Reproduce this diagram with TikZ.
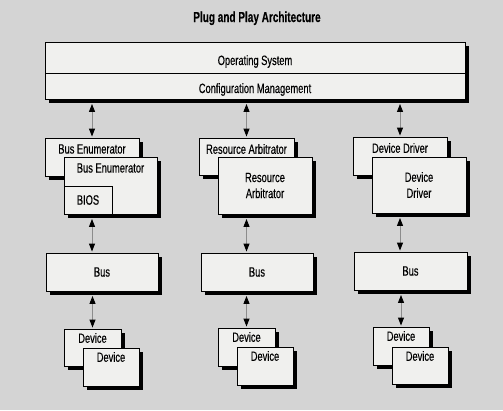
\documentclass[tikz,border=0pt]{standalone}
\usepackage{fontspec}
\setmainfont{Liberation Sans}[FakeStretch=0.69, FakeBold=0.3]
\usetikzlibrary{arrows.meta,shadows}
\definecolor{bgc}{RGB}{212,212,212}
\definecolor{boxc}{RGB}{240,240,238}
\definecolor{shaftc}{RGB}{140,140,140}
\begin{document}
\begin{tikzpicture}[x=1pt,y=-1pt,
  box/.style={draw=black, line width=0.9pt, fill=boxc, inner sep=0pt,
    font=\fontsize{13.5}{16}\selectfont, align=center,
    drop shadow={shadow xshift=3.5pt, shadow yshift=-3.5pt, fill=black, opacity=1}},
  plain/.style={draw=black, line width=0.9pt, fill=boxc, inner sep=0pt,
    font=\fontsize{13.5}{16}\selectfont},
  lbl/.style={inner sep=0pt, font=\fontsize{13.5}{16}\selectfont},
  ttl/.style={inner sep=0pt, font=\fontsize{14.5}{16}\selectfont\bfseries},
  arr/.style={draw=shaftc, line width=0.9pt, {Triangle[length=8pt,width=6pt,color=black]}-{Triangle[length=8pt,width=6pt,color=black]},
    shorten <=4.5pt, shorten >=1pt}]
\fill[bgc] (0,0) rectangle (503,410);
\useasboundingbox (0,0) rectangle (503,410);

% title
\node[ttl, anchor=base] (title) at (257,22) {Plug and Play Architecture};

% top layers
\node[box, minimum width=420pt, minimum height=31pt] (os) at (255,57.5) {};
\node[box, minimum width=420pt, minimum height=26pt] (cm) at (255,86) {};
\node[lbl, anchor=base] (ost) at (255,65) {Operating System};
\node[lbl, anchor=base] (cmt) at (255,93) {Configuration Management};

% column 1
\node[box, minimum width=94pt, minimum height=38pt] (be1) at (92,157) {};
\node[lbl] (be1t) at (92,149) {Bus Enumerator};
\node[box, minimum width=93pt, minimum height=57pt] (be2) at (110.5,185.5) {};
\node[lbl] (be2t) at (110.5,168) {Bus Enumerator};
\node[plain, minimum width=48pt, minimum height=28pt] (bios) at (88,200) {BIOS};

% column 2
\node[box, minimum width=95pt, minimum height=37pt] (ra1) at (246.5,156.5) {};
\node[lbl] (ra1t) at (246.5,149) {Resource Arbitrator};
\node[box, minimum width=94pt, minimum height=57pt] (ra2) at (265,185.5) {Resource\\Arbitrator};

% column 3
\node[box, minimum width=94pt, minimum height=38pt] (dd1) at (400,156) {};
\node[lbl] (dd1t) at (400,148) {Device Driver};
\node[box, minimum width=94pt, minimum height=56pt] (dd2) at (419,185) {Device\\Driver};

% buses
\node[box, minimum width=112pt, minimum height=38pt] (bus1) at (102,272) {Bus};
\node[box, minimum width=112pt, minimum height=38pt] (bus2) at (257,272) {Bus};
\node[box, minimum width=113pt, minimum height=38pt] (bus3) at (410.5,271) {Bus};

% devices
\node[box, minimum width=57pt, minimum height=37pt] (d1a) at (92.5,347.5) {};
\node[lbl] (d1at) at (92.5,338) {Device};
\node[box, minimum width=56pt, minimum height=38pt] (d1b) at (111,367) {};
\node[lbl] (d1bt) at (111,357) {Device};

\node[box, minimum width=57pt, minimum height=38pt] (d2a) at (246.5,347) {};
\node[lbl] (d2at) at (246.5,337) {Device};
\node[box, minimum width=56pt, minimum height=38pt] (d2b) at (265,366) {};
\node[lbl] (d2bt) at (265,356) {Device};

\node[box, minimum width=56pt, minimum height=38pt] (d3a) at (401,346) {};
\node[lbl] (d3at) at (401,336) {Device};
\node[box, minimum width=56pt, minimum height=37pt] (d3b) at (420,365.5) {};
\node[lbl] (d3bt) at (420,356) {Device};

% connectors
\draw[arr] (be1.north |- cm.south) -- (be1.north);
\draw[arr] (ra1.north |- cm.south) -- (ra1.north);
\draw[arr] (dd1.north |- cm.south) -- (dd1.north);

\draw[arr] (be1 |- be2.south) -- (be1 |- bus1.north);
\draw[arr] (ra1 |- ra2.south) -- (ra1 |- bus2.north);
\draw[arr] (dd1 |- dd2.south) -- (dd1 |- bus3.north);

\draw[arr] (d1a.north |- bus1.south) -- (d1a.north);
\draw[arr] (d2a.north |- bus2.south) -- (d2a.north);
\draw[arr] (d3a.north |- bus3.south) -- (d3a.north);
\end{tikzpicture}
\end{document}
